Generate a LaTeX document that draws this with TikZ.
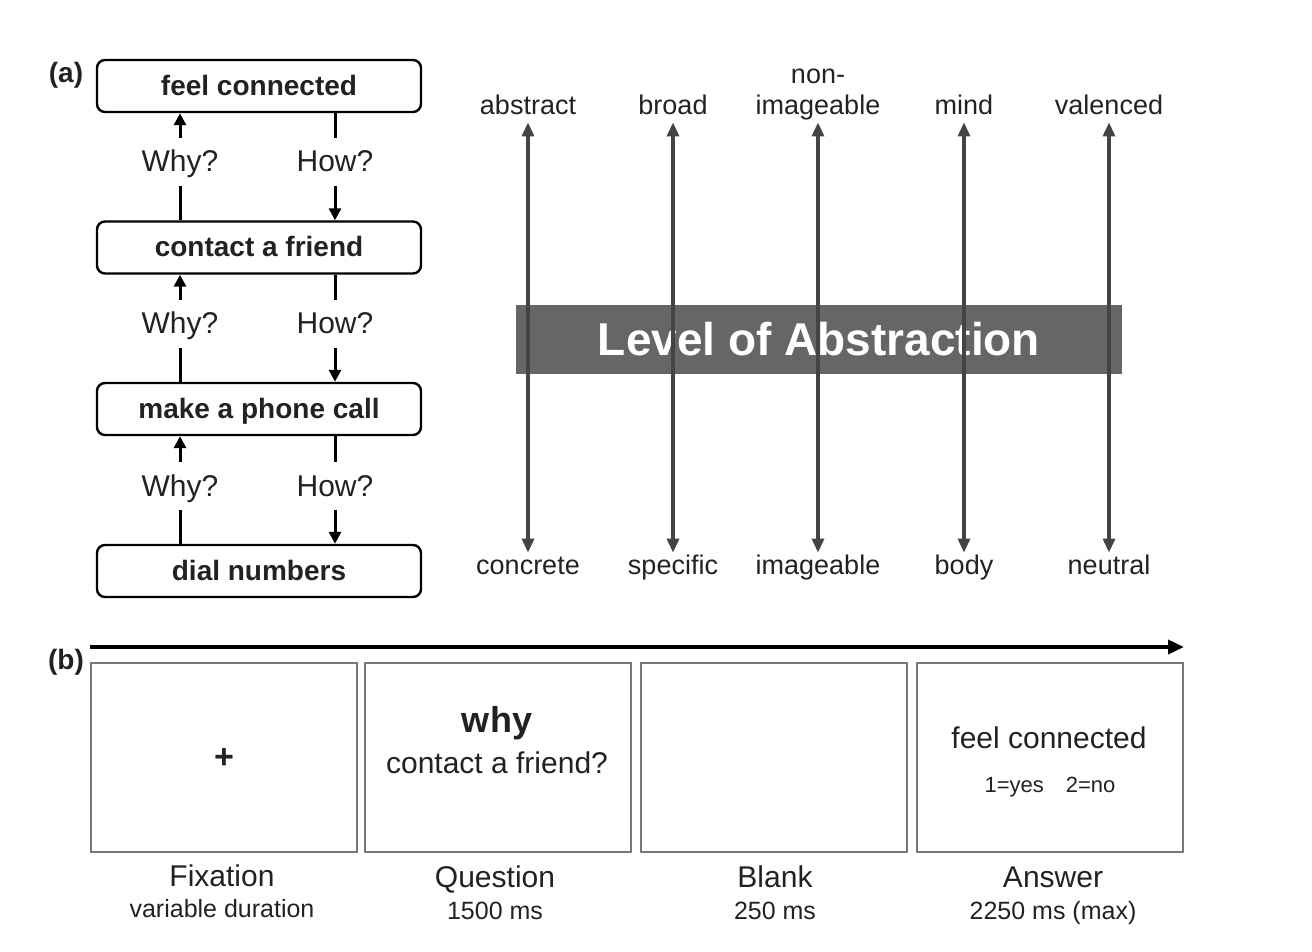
\documentclass[tikz,border=0pt]{standalone}
\usepackage{fontspec}
\setmainfont{Liberation Sans}
\usetikzlibrary{positioning, arrows.meta}
\definecolor{inkText}{RGB}{ 34, 34, 34}
\definecolor{bandGray}{RGB}{102,102,102}
\definecolor{axisGray}{RGB}{ 68, 68, 68}
\definecolor{frameGray}{RGB}{120,120,120}
\newcommand{\fsz}[1]{\fontsize{#1pt}{#1pt}\selectfont}
\tikzset{
    panel/.style={font=\fsz{14}\bfseries, text=inkText, inner sep=0pt},
    goal/.style={
        rounded corners=4pt, draw=black, line width=1.2pt,
        minimum width=162pt, minimum height=26pt, inner sep=0pt,
        text height=11.5pt, text depth=2pt,
        font=\fsz{14}\bfseries, text=inkText
    },
    ask/.style={font=\fsz{15}, text=inkText, inner sep=0pt, minimum height=24pt,
        text height=12pt, text depth=2pt},
    band/.style={
        fill=bandGray, draw=none, minimum width=303pt, minimum height=34.5pt,
        inner sep=0pt, font=\fsz{23}\bfseries, text=white
    },
    pole/.style={font=\fsz{13.5}, text=inkText, inner sep=1pt, text height=9.5pt, text depth=2.5pt},
    screen/.style={
        draw=frameGray, line width=1pt, fill=white,
        minimum width=133pt, minimum height=94.5pt, inner sep=0pt
    },
    captext/.style={font=\fsz{15}, text=inkText, inner sep=0pt, text height=12pt, text depth=2pt},
    subcap/.style={font=\fsz{12.5}, text=inkText, inner sep=0pt, text height=10pt, text depth=1pt},
    up/.style={-{Triangle[length=6pt, width=6pt]}, line width=1.5pt, draw=black},
    plain/.style={line width=1.5pt, draw=black},
    dim/.style={{Triangle[length=7pt, width=6pt]}-{Triangle[length=7pt, width=6pt]}, line width=1.6pt, draw=axisGray},
    timeline/.style={-{Triangle[length=8pt, width=7pt]}, line width=1.8pt, draw=black}
}
\begin{document}
\begin{tikzpicture}[x=0.5pt, y=-0.5pt]
      \useasboundingbox (0,0) rectangle (1312,952);
      \node[panel] (pa) at (66,75) {(a)};
      \node[goal] (fc)  at (259,86)    {feel connected};
      \node[goal] (caf) at (259,247.5) {contact a friend};
      \node[goal] (mpc) at (259,409)   {make a phone call};
      \node[goal] (dn)  at (259,571)   {dial numbers};
      \node[ask] (why1) at (180,162) {Why?};
      \node[ask] (how1) at (335,162) {How?};
      \node[ask] (why2) at (180,324) {Why?};
      \node[ask] (how2) at (335,324) {How?};
      \node[ask] (why3) at (180,486) {Why?};
      \node[ask] (how3) at (335,486) {How?};
      \draw[up] (why1.north) -- (fc.south -| why1);  \draw[plain] (caf.north -| why1) -- (why1.south);
      \draw[plain] (fc.south -| how1) -- (how1.north); \draw[up] (how1.south) -- (caf.north -| how1);
      \draw[up] (why2.north) -- (caf.south -| why2); \draw[plain] (mpc.north -| why2) -- (why2.south);
      \draw[plain] (caf.south -| how2) -- (how2.north); \draw[up] (how2.south) -- (mpc.north -| how2);
      \draw[up] (why3.north) -- (mpc.south -| why3); \draw[plain] (dn.north -| why3) -- (why3.south);
      \draw[plain] (mpc.south -| how3) -- (how3.north); \draw[up] (how3.south) -- (dn.north -| how3);
      \node[band] (loa) at (819,339.5) {Level of Abstraction};
      \node[pole] (abs)    at (528,108)  {abstract};
      \node[pole] (brd)    at (673,108)  {broad};
      \node[pole] (nonimg) at (818,108)  {imageable};
      \node[pole, above=1.5pt of nonimg] (nonpre) {non-};
      \node[pole] (mnd)    at (964,108)  {mind};
      \node[pole] (val)    at (1109,108) {valenced};
      \node[pole] (conc)   at (528,567)  {concrete};
      \node[pole] (spec)   at (673,567)  {specific};
      \node[pole] (img)    at (818,567)  {imageable};
      \node[pole] (bdy)    at (964,567)  {body};
      \node[pole] (neu)    at (1109,567) {neutral};
      \draw[dim] (abs.south) -- (conc.north);
      \draw[dim] (brd.south) -- (spec.north);
      \draw[dim] (nonimg.south) -- (img.north);
      \draw[dim] (mnd.south) -- (bdy.north);
      \draw[dim] (val.south) -- (neu.north);
      \node[panel] (pb) at (66,662) {(b)};
      \coordinate (t0) at (90,647);
      \coordinate (t1) at (1184,647);
      \draw[timeline] (t0) -- (t1);
      \node[screen] (fix) at (224,757.5)    {};
      \node[screen] (qst) at (497.5,757.5)  {};
      \node[screen] (blk) at (774,757.5)    {};
      \node[screen] (ans) at (1049.5,757.5) {};
      \node[inner sep=0pt, font=\fsz{17}\bfseries, text=inkText] (plus) at (224,759) {+};
      \node[captext, font=\fsz{18}\bfseries] (qwhy) at (497,722) {why};
      \node[captext] (qtxt) at (497,763) {contact a friend?};
      \node[captext] (atxt) at (1049,738) {feel connected};
      \node[captext, font=\fsz{11}, text height=8pt, text depth=2pt] (akey) at (1050,786) {1=yes\hspace{1em}2=no};
      \node[captext] (fixc) at (222,876) {Fixation};
      \node[subcap] (fixd) at (222,908) {variable duration};
      \node[captext] (qstc) at (495,877) {Question};
      \node[subcap] (qstd) at (495,910) {1500 ms};
      \node[captext] (blkc) at (775,877) {Blank};
      \node[subcap] (blkd) at (775,910) {250 ms};
      \node[captext] (ansc) at (1053,877) {Answer};
      \node[subcap] (ansd) at (1053,910) {2250 ms (max)};
    \end{tikzpicture}
\end{document}
